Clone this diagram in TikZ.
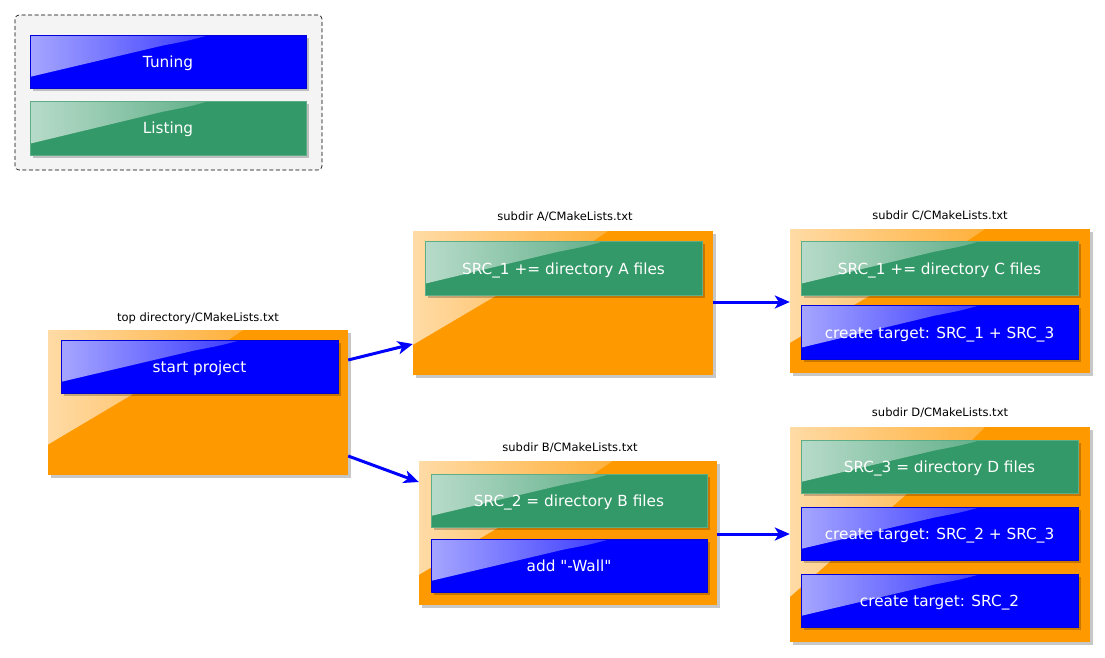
\documentclass[tikz,border=0pt]{standalone}
\usepackage{fontspec}
\setmainfont{DejaVu Sans}[Ligatures=TeXOff]
\usetikzlibrary{arrows.meta,shadows,fadings,calc}

\definecolor{tuneblue}{RGB}{0,0,255}
\definecolor{listgreen}{RGB}{52,153,104}
\definecolor{clorange}{RGB}{255,153,0}
\definecolor{legendgray}{RGB}{244,244,244}

% glossy highlight: strongest at the left, fading out to the right
\tikzfading[name=glossfade, left color=transparent!35, middle color=transparent!72, right color=transparent!100]

\tikzset{
  gloss/.style={path picture={
    \fill[white, path fading=glossfade]
      let \p1=(path picture bounding box.north west),
          \p2=(path picture bounding box.south east) in
      (\x1,\y1) -- ({\x1+0.65*(\x2-\x1)},\y1)
      .. controls ({\x1+0.58*(\x2-\x1)},{\y1-0.10*(\y1-\y2)}) ..
      ({\x1+0.48*(\x2-\x1)},{\y1-0.20*(\y1-\y2)})
      -- (\x1,{\y1-0.79*(\y1-\y2)}) -- cycle;
  }},
  shade3/.style={drop shadow={shadow xshift=3pt, shadow yshift=-3pt, fill=black, opacity=0.22}},
  task/.style={minimum width=277pt, minimum height=53pt, inner sep=0pt,
    text height=13pt, text depth=1pt,
    text=white, font=\fontsize{15.3}{18}\selectfont, shade3, gloss, line width=0.5pt},
  tuning/.style={task, fill=tuneblue, draw=tuneblue!85!black},
  listing/.style={task, fill=listgreen, draw=listgreen!80!white},
  cluster/.style={inner sep=0pt, fill=clorange, draw=none, shade3, gloss},
  cltitle/.style={font=\fontsize{11.5}{14}\selectfont, text=black, inner sep=0pt},
  flow/.style={draw=tuneblue, line width=3pt, -{Stealth[length=15pt, width=13pt, inset=4pt]}}
}

\begin{document}
\begin{tikzpicture}[x=1pt, y=-1pt]
\useasboundingbox (0,0) rectangle (1105,658);

% legend
\node[draw=black, dash pattern=on 4pt off 2.5pt, rounded corners=4pt, fill=legendgray, line width=0.6pt,
      minimum width=307pt, minimum height=155pt, inner sep=0pt] (legend) at (168.5,92.5) {};
\node[tuning, minimum width=276pt] (tuningkey) at (168,61.5) {Tuning};
\node[listing, minimum width=276pt, minimum height=54pt] (listingkey) at (168,128) {Listing};

% top directory
\node[cluster, minimum width=300pt, minimum height=145pt] (top) at (198,402.5) {};
\node[cltitle] (toplabel) at (198,318) {top directory/CMakeLists.txt};
\node[tuning] (start) at (199.5,366.5) {start project};

% subdir A
\node[cluster, minimum width=300pt, minimum height=144pt] (dirA) at (563,303) {};
\node[cltitle] (labelA) at (565,217) {subdir A/CMakeLists.txt};
\node[listing, minimum height=54pt] (a1) at (563.5,268) {SRC\_1 += directory A files};

% subdir C
\node[cluster, minimum width=300pt, minimum height=144pt] (dirC) at (940,301) {};
\node[cltitle] (labelC) at (940,216) {subdir C/CMakeLists.txt};
\node[listing, minimum height=54pt] (c1) at (939.5,268) {SRC\_1 += directory C files};
\node[tuning, minimum height=54pt] (c2) at (939.5,332) {create target: SRC\_1 + SRC\_3};

% subdir B
\node[cluster, minimum width=298pt, minimum height=144pt] (dirB) at (568,533) {};
\node[cltitle] (labelB) at (570,448) {subdir B/CMakeLists.txt};
\node[listing, minimum width=276pt] (b1) at (569,500.5) {SRC\_2 = directory B files};
\node[tuning, minimum width=276pt] (b2) at (569,565.5) {add "-Wall"};

% subdir D
\node[cluster, minimum width=300pt, minimum height=215pt] (dirD) at (940,534.5) {};
\node[cltitle] (labelD) at (940,413) {subdir D/CMakeLists.txt};
\node[listing] (d1) at (939.5,466.5) {SRC\_3 = directory D files};
\node[tuning] (d2) at (939.5,533.5) {create target: SRC\_2 + SRC\_3};
\node[tuning] (d3) at (939.5,600.5) {create target: SRC\_2};

% connections between directories
\draw[flow] ([yshift=42.5pt]top.east) -- ([yshift=-41pt]dirA.west);
\draw[flow] ([yshift=-53.5pt]top.east) -- ([yshift=51pt]dirB.west);
\draw[flow] ([yshift=1pt]dirA.east) -- ([yshift=-1pt]dirC.west);
\draw[flow] ([yshift=-1pt]dirB.east) -- ([yshift=0.5pt]dirD.west);
\end{tikzpicture}
\end{document}
